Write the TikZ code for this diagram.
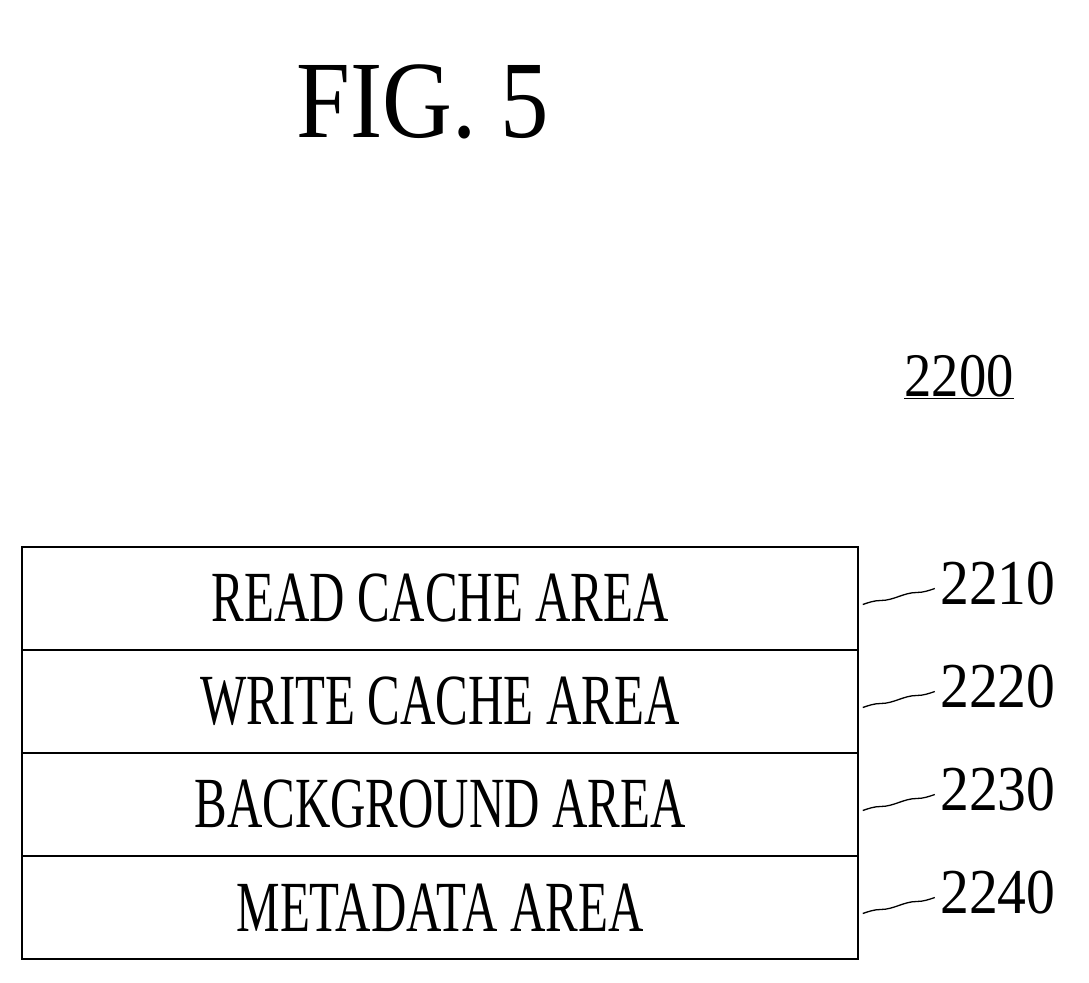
\documentclass[tikz,border=0pt]{standalone}
\usepackage{fontspec}
\setmainfont{Liberation Serif}
\begin{document}
\begin{tikzpicture}[x=1pt,y=1pt,
  lbl/.style={inner sep=0pt},
  box/.style={draw,line width=1.6pt,minimum width=836pt,minimum height=103pt,inner sep=0pt},
  sq/.style={line width=1.3pt}]
\useasboundingbox (0,0) rectangle (1089,982);
\node[lbl] (fig) at (423,880) {\fontsize{110}{110}\selectfont\scalebox{0.88}[1]{FIG.\ 5}};
\node[lbl] (ref) at (959,605) {\fontsize{62}{62}\selectfont\scalebox{0.88}[1]{\underline{2200}}};
\foreach \n/\t/\c in {1/READ CACHE AREA/383.5,2/WRITE CACHE AREA/280.5,3/BACKGROUND AREA/177.5,4/METADATA AREA/74.5}{
  \node[box] (b\n) at (440,\c) {\fontsize{72}{72}\selectfont\scalebox{0.68}[1]{\t}};
  \node[lbl,anchor=west] (l\n) at (940,\c+15) {\fontsize{64}{64}\selectfont\scalebox{0.9}[1]{22\n0}};
  \draw[sq] (b\n.east) ++(4,-6) sin ++(18,4) cos ++(18,4) sin ++(18,4) cos ++(18,4);
}
\end{tikzpicture}
\end{document}
